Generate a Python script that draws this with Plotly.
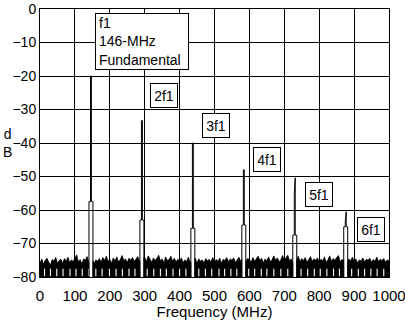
import plotly.graph_objects as go

# ---------------- data ----------------
x_tick_vals = list(range(0, 1001, 100))
y_tick_vals = list(range(-80, 1, 10))

floor_db = -80.0
noise_step_mhz = 5
# top envelope of the noise floor, every 5 MHz from 0 to 1000 MHz
noise_top = [
    -75.8, -74.6, -76.2, -75.0, -74.4, -75.6, -76.4, -74.8, -75.2, -74.2, -75.9, -75.1, -74.7, -76.0, -74.5, -75.3, -74.1, -75.7, -74.9, -75.4,
    -74.3, -73.4, -75.5, -74.8, -76.1, -74.6, -75.0, -73.9, -75.8, -74.4, -75.2, -76.0, -74.9, -75.3, -74.5, -75.6, -74.2, -75.1, -73.8, -75.4,
    -74.7, -75.9, -74.3, -75.2, -74.0, -75.5, -74.8, -73.6, -75.1, -74.6, -75.7, -74.4, -75.0, -74.2, -75.3, -74.7, -73.9, -75.2, -74.5, -75.0,
    -74.1, -75.4, -73.7, -74.9, -75.6, -74.3, -75.0, -74.5, -73.5, -75.2, -74.6, -75.8, -74.0, -75.1, -74.8, -73.8, -75.3, -74.4, -75.5, -74.7,
    -75.2, -74.3, -75.7, -74.9, -75.4, -74.1, -75.6, -74.8, -75.1, -74.4, -75.9, -74.6, -75.3, -74.9, -75.8, -74.5, -75.2, -74.7, -75.5, -74.2,
    -75.6, -74.8, -75.3, -74.4, -75.9, -74.7, -75.1, -74.2, -75.5, -74.6, -75.0, -74.3, -75.7, -74.9, -74.1, -75.4, -74.6, -73.9, -75.2, -74.5,
    -74.8, -75.6, -74.2, -75.3, -74.7, -73.8, -75.1, -74.4, -75.8, -74.6, -75.2, -74.0, -75.5, -74.8, -73.7, -75.0, -74.3, -75.4, -74.9, -73.6,
    -75.1, -74.4, -73.5, -75.2, -74.6, -75.7, -74.1, -75.0, -73.8, -75.4, -74.5, -75.1, -74.2, -75.6, -74.8, -73.9, -75.3, -74.6, -75.0, -74.3,
    -75.5, -74.7, -75.2, -74.0, -75.6, -74.9, -73.7, -75.3, -74.5, -75.0, -74.2, -73.6, -75.4, -74.8, -75.1, -74.4, -75.7, -74.6, -75.2, -74.1,
    -75.3, -74.6, -75.8, -74.9, -75.2, -74.3, -75.5, -74.7, -75.0, -74.4, -75.6, -74.8, -75.3, -74.1, -75.4, -74.7, -75.1, -74.5, -75.6, -74.9,
    -75.2,
]
# frequencies where the noise trace does not reach the floor (white slits)
slit_mhz = [13, 30, 48, 66, 86, 103, 121, 139, 160, 178, 199, 218, 236, 255, 272,
            307, 326, 345, 362, 381, 400, 418, 455, 474, 492, 513, 529, 547, 564,
            598, 615, 634, 650, 670, 690, 710, 748, 767, 786, 803, 822, 841, 858,
            893, 912, 930, 948, 966, 985]
slit_top_db = -77.5

harm_names = ["f1<br>146-MHz<br>Fundamental", "2f1", "3f1", "4f1", "5f1", "6f1"]
harm_freq = [146, 292, 438, 584, 730, 876]
harm_peak = [-20.0, -33.3, -40.0, -48.0, -50.4, -60.5]
harm_body = [-20.0, -33.3, -40.0, -48.0, -55.0, -63.5]
harm_skirt = [-57.5, -63.0, -65.5, -64.5, -67.5, -65.0]

# label box anchors (MHz, dB)
label_x = [158, 355, 503, 650, 798, 947]
label_y = [-1.2, -25.7, -34.9, -45.0, -55.4, -65.7]

# ---------------- build ----------------
skirt_half = 5.7
tip_half = 1.3

noise_x = [i * noise_step_mhz for i in range(len(noise_top))]
excl = [(f - skirt_half, f + skirt_half) for f in harm_freq]
bounds = [0.0]
for a, b in excl:
    bounds += [a, b]
bounds.append(1000.0)
segments = [(bounds[i], bounds[i + 1]) for i in range(0, len(bounds), 2)]

def top_at(x):
    i = min(range(len(noise_x)), key=lambda k: abs(noise_x[k] - x))
    return noise_top[i]

px, py = [], []
for s, e in segments:
    px.append(s); py.append(floor_db)
    px.append(s); py.append(top_at(s))
    for xv, yv in zip(noise_x, noise_top):
        if s < xv < e:
            px.append(xv); py.append(yv)
    px.append(e); py.append(top_at(e))
    px.append(e); py.append(floor_db)
    px.append(s); py.append(floor_db)
    px.append(None); py.append(None)

fig = go.Figure()
fig.add_trace(go.Scatter(x=px, y=py, mode="lines", fill="toself",
                         fillcolor="black", line=dict(color="black", width=0.8),
                         hoverinfo="skip", showlegend=False))

sx, sy = [], []
for s in slit_mhz:
    sx += [s, s, None]
    sy += [floor_db + 0.25, slit_top_db, None]
fig.add_trace(go.Scatter(x=sx, y=sy, mode="lines", line=dict(color="white", width=1.1),
                         hoverinfo="skip", showlegend=False))

hx, hy = [], []
for f, pk, bd, sk in zip(harm_freq, harm_peak, harm_body, harm_skirt):
    hx += [f - skirt_half, f - skirt_half, f - tip_half, f - tip_half,
           f + tip_half, f + tip_half, f + skirt_half, f + skirt_half, None]
    hy += [floor_db, sk, sk, bd, pk, sk, sk, floor_db, None]
fig.add_trace(go.Scatter(x=hx, y=hy, mode="lines", line=dict(color="black", width=1),
                         hoverinfo="skip", showlegend=False))

font = dict(family="Liberation Sans, Arial, sans-serif", size=14, color="black")
font15 = dict(family="Liberation Sans, Arial, sans-serif", size=15, color="black")

for i, (name, lx, ly) in enumerate(zip(harm_names, label_x, label_y)):
    if i == 0:
        fig.add_annotation(x=lx, y=ly, xref="x", yref="y", text=name, showarrow=False,
                           xanchor="left", yanchor="top", align="left",
                           width=86, height=49, valign="middle",
                           bgcolor="white", bordercolor="black", borderwidth=1, borderpad=3,
                           font=font)
    else:
        fig.add_annotation(x=lx, y=ly, xref="x", yref="y", text=name, showarrow=False,
                           xanchor="center", yanchor="middle", align="center",
                           width=20, height=17, valign="middle",
                           bgcolor="white", bordercolor="black", borderwidth=1, borderpad=3,
                           font=font)

fig.add_annotation(x=-0.092, y=0.5, xref="paper", yref="paper", text="d<br>B",
                   showarrow=False, xanchor="center", yanchor="middle", font=font)

fig.update_layout(
    width=405, height=320,
    margin=dict(l=40, r=16, t=9, b=43, autoexpand=False),
    paper_bgcolor="white", plot_bgcolor="white",
    font=font,
    showlegend=False,
)
fig.update_xaxes(range=[0, 1000], tickvals=x_tick_vals, automargin=False,
                 ticks="outside", ticklen=5, tickcolor="rgba(0,0,0,0)",
                 ticklabeloverflow="allow",
                 showgrid=True, gridcolor="black", gridwidth=1,
                 showline=True, linecolor="black", linewidth=1, mirror=True,
                 zeroline=False, tickfont=font15,
                 title=dict(text="Frequency (MHz)", font=font15, standoff=0))
fig.update_yaxes(range=[-80, 0], tickvals=y_tick_vals, ticks="", automargin=False,
                 ticklabeloverflow="allow",
                 showgrid=True, gridcolor="black", gridwidth=1,
                 showline=True, linecolor="black", linewidth=1, mirror=True,
                 zeroline=False, tickfont=font)

fig.write_html("out.html")
